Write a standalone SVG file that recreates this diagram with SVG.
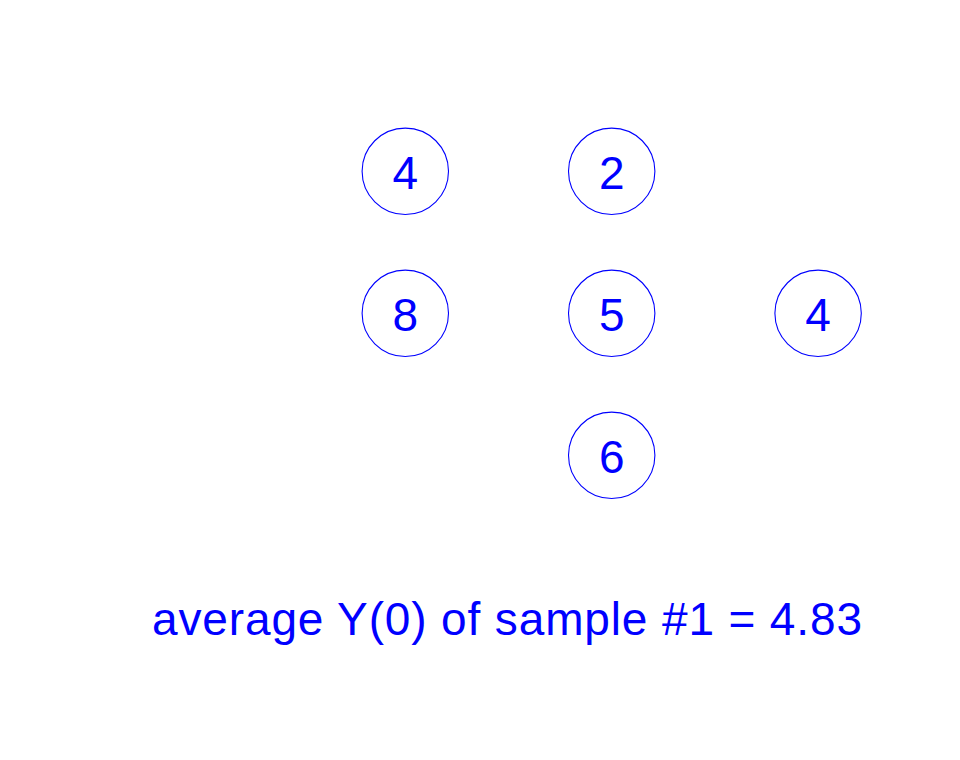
<svg xmlns="http://www.w3.org/2000/svg" width="960" height="760" viewBox="0 0 960 760">
<style>
.c{fill:none;stroke:#0000ff;stroke-width:1.1}
.t{font-family:"Liberation Sans",Arial,sans-serif;font-size:46px;fill:#0000ff;text-anchor:middle}
</style>
<rect width="960" height="760" fill="#ffffff"/>
<g id="connectors"></g>
<g id="n1"><circle class="c" cx="405.3" cy="171.3" r="43.2"/><text class="t" x="405.3" y="188.5">4</text></g>
<g id="n2"><circle class="c" cx="611.7" cy="171.3" r="43.2"/><text class="t" x="611.7" y="188.5">2</text></g>
<g id="n3"><circle class="c" cx="405.3" cy="313.3" r="43.2"/><text class="t" x="405.3" y="330.5">8</text></g>
<g id="n4"><circle class="c" cx="611.7" cy="313.3" r="43.2"/><text class="t" x="611.7" y="330.5">5</text></g>
<g id="n5"><circle class="c" cx="818.1" cy="313.3" r="43.2"/><text class="t" x="818.1" y="330.5">4</text></g>
<g id="n6"><circle class="c" cx="611.7" cy="455.3" r="43.2"/><text class="t" x="611.7" y="472.5">6</text></g>
<text class="t" x="507" y="635" textLength="710" lengthAdjust="spacing">average Y(0) of sample #1 = 4.83</text>
</svg>
